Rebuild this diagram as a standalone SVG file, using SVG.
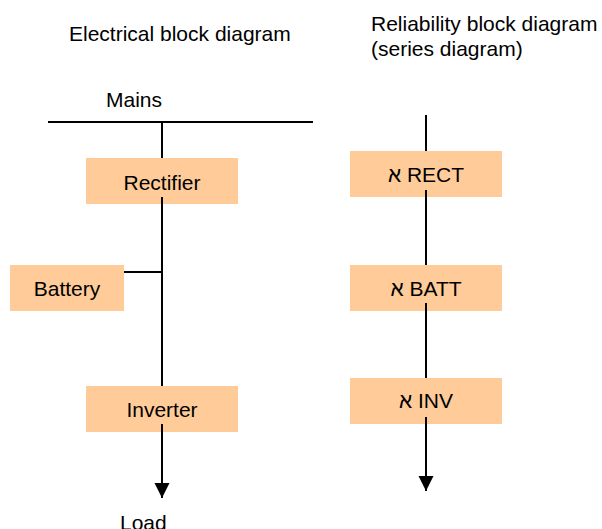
<svg xmlns="http://www.w3.org/2000/svg" width="602" height="529" viewBox="0 0 602 529">
<style>
text { font-family: "Liberation Sans", Arial, "DejaVu Sans", sans-serif; font-size: 21px; fill: #000; }
.c { text-anchor: middle; }
.box { fill: #FFCC99; stroke: none; }
.ln { stroke: #000; stroke-width: 2; fill: none; }
</style>
<defs>
<marker id="arr" markerUnits="userSpaceOnUse" markerWidth="16" markerHeight="16" viewBox="0 0 16 16" refX="15" refY="8" orient="auto">
<path d="M0,0.5 L15,8 L0,15.5 z" fill="#000"/>
</marker>
</defs>
<rect width="602" height="529" fill="#fff"/>
<g id="titles">
<text x="69" y="41">Electrical block diagram</text>
<text x="371" y="31">Reliability block diagram</text>
<text x="371" y="56">(series diagram)</text>
</g>
<g id="mains"><text x="106" y="107">Mains</text></g>
<g id="load"><text x="120" y="530">Load</text></g>
<g id="rectifier"><rect class="box" x="86" y="158" width="152" height="46"/><text class="c" x="162" y="190">Rectifier</text></g>
<g id="battery"><rect class="box" x="10" y="265" width="114" height="46"/><text class="c" x="67" y="296">Battery</text></g>
<g id="inverter"><rect class="box" x="86" y="386" width="152" height="46"/><text class="c" x="162" y="417">Inverter</text></g>
<g id="rect-rbd"><rect class="box" x="350" y="151" width="152" height="46"/><text class="c" x="426" y="182">א RECT</text></g>
<g id="batt-rbd"><rect class="box" x="350" y="265" width="152" height="46"/><text class="c" x="426" y="296">א BATT</text></g>
<g id="inv-rbd"><rect class="box" x="350" y="378" width="152" height="46"/><text class="c" x="426" y="408">א INV</text></g>
<g id="connectors">
<line class="ln" x1="48" y1="122" x2="313" y2="122"/>
<line class="ln" x1="162" y1="122" x2="162" y2="158"/>
<line class="ln" x1="162" y1="197" x2="162" y2="386"/>
<line class="ln" x1="124" y1="272" x2="162" y2="272"/>
<line class="ln" x1="162" y1="424" x2="162" y2="498" marker-end="url(#arr)"/>
<line class="ln" x1="426" y1="115" x2="426" y2="151"/>
<line class="ln" x1="426" y1="190" x2="426" y2="265"/>
<line class="ln" x1="426" y1="303" x2="426" y2="378"/>
<line class="ln" x1="426" y1="417" x2="426" y2="491" marker-end="url(#arr)"/>
</g>
</svg>
